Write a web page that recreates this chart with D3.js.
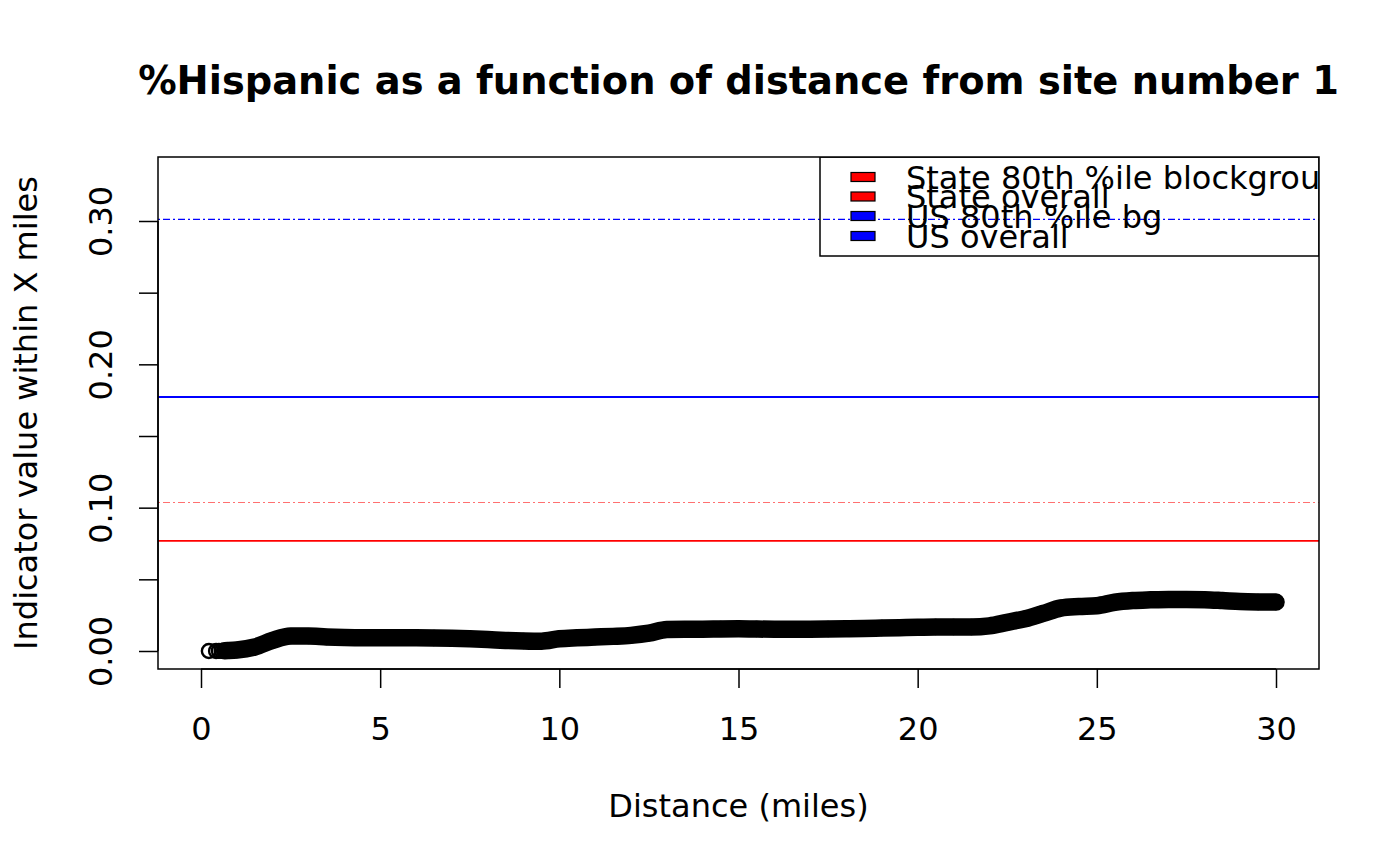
<!DOCTYPE html>
<html>
<head>
<meta charset="utf-8">
<script src="https://cdn.jsdelivr.net/npm/d3@7"></script>
<style>
  html, body { margin: 0; padding: 0; background: #fff; }
  svg { display: block; font-family: "DejaVu Sans", sans-serif; }
</style>
</head>
<body>
<svg id="chart" width="1400" height="866"></svg>
<script>
// ---- Data ----
const distances = [0.22, 0.42, 0.5, 0.58, 0.66, 0.75, 1.0, 1.5, 2.0, 2.5, 3.0, 3.5, 4.0, 4.5, 5.0, 5.5, 6.0, 6.5, 7.0, 7.5,
  8.0, 8.5, 9.0, 9.5, 10.0, 10.5, 11.0, 11.5, 12.0, 12.5, 13.0, 13.5, 14.0, 14.5, 15.0, 15.5, 16.0, 16.5, 17.0, 17.5,
  18.0, 18.5, 19.0, 19.5, 20.0, 20.5, 21.0, 21.5, 22.0, 22.5, 23.0, 23.5, 24.0, 24.5, 25.0, 25.5, 26.0, 26.5, 27.0, 27.5,
  28.0, 28.5, 29.0, 29.5, 30.0];
const indicatorValues = [0.0000, 0.0000, 0.0001, 0.0001, 0.0002, 0.0003, 0.0007, 0.0028, 0.0074, 0.0104, 0.0104, 0.0098, 0.0094, 0.0092, 0.0092, 0.0092, 0.0092, 0.0091, 0.0089, 0.0085,
  0.0080, 0.0074, 0.0070, 0.0068, 0.0085, 0.0092, 0.0097, 0.0102, 0.0109, 0.0124, 0.0150, 0.0152, 0.0152, 0.0154, 0.0155, 0.0153, 0.0152, 0.0152, 0.0152, 0.0153,
  0.0155, 0.0157, 0.0160, 0.0163, 0.0165, 0.0167, 0.0167, 0.0167, 0.0175, 0.0200, 0.0225, 0.0262, 0.0300, 0.0310, 0.0316, 0.0340, 0.0352, 0.0357, 0.0360, 0.0360,
  0.0358, 0.0352, 0.0345, 0.0342, 0.0341];

const refLabels = ["State 80th %ile blockgroup", "State overall", "US 80th %ile bg", "US overall"];
const refValues = [0.1036, 0.0768, 0.3011, 0.1772];
const refColors = ["#ff7070", "#ff0000", "#0000ff", "#0000ff"];
const refDash = ["2,3,7,3", null, "2,3,7,3", null];
const legendFill = ["#ff0000", "#ff0000", "#0000ff", "#0000ff"];

const xTicks = [0, 5, 10, 15, 20, 25, 30];
const yTicks = [0, 0.05, 0.10, 0.15, 0.20, 0.25, 0.30];
const yTickLabels = ["0.00", "", "0.10", "", "0.20", "", "0.30"];

const titleText = "%Hispanic as a function of distance from site number 1";
const xLabel = "Distance (miles)";
const yLabel = "Indicator value within X miles";

// ---- Layout ----
const plot = { left: 158, right: 1319, top: 157, bottom: 669 };
const fs = 32;

const svg = d3.select("#chart");
const x = d3.scaleLinear().domain([-1.2, 31.2]).range([plot.left, plot.right]);
const y = d3.scaleLinear().domain([-0.01256, 0.34465]).range([plot.bottom, plot.top]);

svg.append("defs").append("clipPath").attr("id", "plotclip")
  .append("rect").attr("x", plot.left).attr("y", plot.top)
  .attr("width", plot.right - plot.left).attr("height", plot.bottom - plot.top);

// Title
svg.append("text").attr("x", (plot.left + plot.right) / 2).attr("y", 94)
  .attr("text-anchor", "middle").attr("font-weight", "bold").attr("font-size", 38.4)
  .text(titleText);

// Data points
const pts = distances.map((d, i) => ({ d, v: indicatorValues[i] }));
const g = svg.append("g").attr("clip-path", "url(#plotclip)");

// dense overlapping circles form a solid band
const bandPts = pts.filter(p => p.d >= 0.66);
g.append("path").datum(bandPts)
  .attr("d", d3.line().x(p => x(p.d)).y(p => y(p.v)).curve(d3.curveMonotoneX))
  .attr("fill", "none").attr("stroke", "#000").attr("stroke-width", 17.5)
  .attr("stroke-linecap", "round").attr("stroke-linejoin", "round");

g.selectAll("circle.pt").data(pts).join("circle").attr("class", "pt")
  .attr("cx", p => x(p.d)).attr("cy", p => y(p.v)).attr("r", 7)
  .attr("fill", "none").attr("stroke", "#000").attr("stroke-width", 2.4);

// Reference lines
refValues.forEach((v, i) => {
  const ln = g.append("line")
    .attr("x1", plot.left).attr("x2", plot.right)
    .attr("y1", y(v)).attr("y2", y(v))
    .attr("stroke", refColors[i]).attr("stroke-width", refDash[i] ? 1.2 : 1.8);
  if (refDash[i]) ln.attr("stroke-dasharray", refDash[i]);
});

// Legend
const lg = svg.append("g").attr("clip-path", "url(#plotclip)");
lg.append("rect").attr("x", 820).attr("y", plot.top).attr("width", plot.right - 820)
  .attr("height", 99).attr("fill", "none").attr("stroke", "#000").attr("stroke-width", 1.5);
const legendY = [177, 196.5, 216, 236];
refLabels.forEach((lab, i) => {
  lg.append("rect").attr("x", 851).attr("y", legendY[i] - 4.5).attr("width", 24).attr("height", 9)
    .attr("fill", legendFill[i]).attr("stroke", "#000").attr("stroke-width", 1.2);
  lg.append("text").attr("x", 906).attr("y", legendY[i] + 11.5).attr("font-size", fs).text(lab);
});

// Plot box
svg.append("rect").attr("x", plot.left).attr("y", plot.top)
  .attr("width", plot.right - plot.left).attr("height", plot.bottom - plot.top)
  .attr("fill", "none").attr("stroke", "#000").attr("stroke-width", 1.5);

// X axis
const xAxis = d3.axisBottom(x).tickValues(xTicks).tickSize(19).tickSizeOuter(0).tickFormat(d3.format("d"));
const gx = svg.append("g").attr("transform", `translate(0,${plot.bottom})`).call(xAxis);
gx.select(".domain").attr("d", `M${x(0)},0H${x(30)}`).attr("stroke-width", 1.5);
gx.selectAll(".tick line").attr("stroke-width", 1.5);
gx.selectAll(".tick text").attr("font-size", fs).attr("font-family", "DejaVu Sans")
  .attr("y", 71).attr("dy", null).attr("fill", "#000");

// Y axis
const yAxis = d3.axisLeft(y).tickValues(yTicks).tickSize(19).tickSizeOuter(0)
  .tickFormat((d, i) => yTickLabels[i]);
const gy = svg.append("g").attr("transform", `translate(${plot.left},0)`).call(yAxis);
gy.select(".domain").attr("d", `M0,${y(0)}V${y(0.30)}`).attr("stroke-width", 1.5);
gy.selectAll(".tick line").attr("stroke-width", 1.5);
gy.selectAll(".tick text").attr("font-size", fs).attr("font-family", "DejaVu Sans")
  .attr("x", null).attr("dy", null).attr("fill", "#000")
  .attr("text-anchor", "middle")
  .attr("transform", "translate(-46,0) rotate(-90)");

// Axis titles
svg.append("text").attr("x", (plot.left + plot.right) / 2).attr("y", 817)
  .attr("text-anchor", "middle").attr("font-size", fs).text(xLabel);
svg.append("text").attr("transform", `translate(37,${(plot.top + plot.bottom) / 2}) rotate(-90)`)
  .attr("text-anchor", "middle").attr("font-size", fs).text(yLabel);
</script>
</body>
</html>
